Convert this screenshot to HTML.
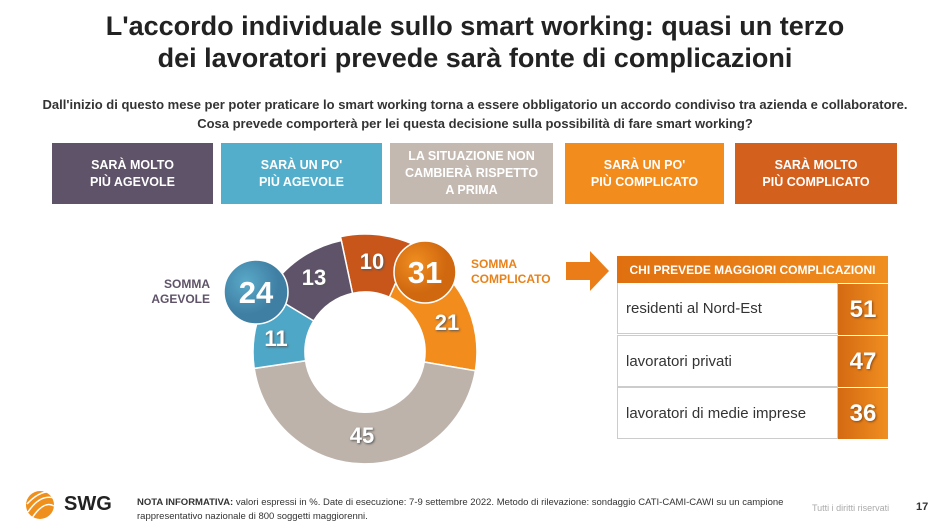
<!DOCTYPE html>
<html><head><meta charset="utf-8"><style>
body{margin:0;width:950px;height:530px;background:#fff;font-family:"Liberation Sans",sans-serif;position:relative;overflow:hidden}
.a{position:absolute}
.t{left:0;width:950px;text-align:center;font-weight:bold;font-size:27px;color:#222;line-height:32px;top:10px}
.q{left:0;width:950px;text-align:center;font-weight:bold;font-size:13px;color:#333;line-height:19px;top:95px}
.b{top:143px;height:61px;display:flex;align-items:center;justify-content:center;text-align:center;color:#fff;font-weight:bold;font-size:12.5px;line-height:17px}
.row{left:617px;width:221px;height:51px;border:1px solid #ccc;border-top:none;display:flex;align-items:center;padding-left:8px;box-sizing:border-box;font-size:15px;color:#333}
.num{left:838px;width:50px;height:51px;background:linear-gradient(90deg,#d46a12,#f08e20);color:#fff;font-weight:bold;font-size:24px;display:flex;align-items:center;justify-content:center;text-shadow:1px 1px 2px #8a4a10}
</style></head><body>
<div class="a t">L'accordo individuale sullo smart working: quasi un terzo<br>dei lavoratori prevede sarà fonte di complicazioni</div>
<div class="a q">Dall'inizio di questo mese per poter praticare lo smart working torna a essere obbligatorio un accordo condiviso tra azienda e collaboratore.<br>Cosa prevede comporterà per lei questa decisione sulla possibilità di fare smart working?</div>
<div class="a b" style="left:52px;width:161px;background:#5f5369">SARÀ MOLTO<br>PIÙ AGEVOLE</div>
<div class="a b" style="left:221px;width:161px;background:#52aecb">SARÀ UN PO'<br>PIÙ AGEVOLE</div>
<div class="a b" style="left:390px;width:163px;background:#c3b9b1">LA SITUAZIONE NON<br>CAMBIERÀ RISPETTO<br>A PRIMA</div>
<div class="a b" style="left:565px;width:159px;background:#f28c1c">SARÀ UN PO'<br>PIÙ COMPLICATO</div>
<div class="a b" style="left:735px;width:162px;background:#d4601e">SARÀ MOLTO<br>PIÙ COMPLICATO</div>

<svg class="a" style="left:0;top:0" width="950" height="530">
<defs>
<radialGradient id="g1" cx="35%" cy="35%"><stop offset="0" stop-color="#5aa9c9"/><stop offset="1" stop-color="#3f7fa3"/></radialGradient>
<radialGradient id="g2" cx="35%" cy="35%"><stop offset="0" stop-color="#f08e20"/><stop offset="1" stop-color="#d0680f"/></radialGradient>
</defs>
<g id="donut" stroke="#fff" stroke-width="1.5"></g>
<g font-weight="bold" fill="#fff" font-size="22" text-anchor="middle" font-family="Liberation Sans" style="text-shadow:1px 1px 2px #555">
<text x="372" y="269">10</text>
<text x="447" y="330">21</text>
<text x="362" y="443">45</text>
<text x="276" y="346">11</text>
<text x="314" y="285">13</text>
</g>
<circle cx="256" cy="292" r="32" fill="url(#g1)" stroke="#fff" stroke-width="1.5"/>
<circle cx="425" cy="272" r="31" fill="url(#g2)" stroke="#fff" stroke-width="1.5"/>
<g font-weight="bold" fill="#fff" font-size="31" text-anchor="middle" font-family="Liberation Sans">
<text x="256" y="303">24</text><text x="425" y="283">31</text></g>
<g font-weight="bold" font-size="12" font-family="Liberation Sans" text-anchor="end" fill="#5f5369">
<text x="210" y="288">SOMMA</text><text x="210" y="303">AGEVOLE</text></g>
<g font-weight="bold" font-size="12" font-family="Liberation Sans" fill="#e8821a">
<text x="471" y="268">SOMMA</text><text x="471" y="283">COMPLICATO</text></g>
<path d="M566 262 H590 V251 L609 271 L590 291 V280 H566 Z" fill="#eb7d18"/>
<circle cx="40" cy="505" r="14" fill="#f0901c"/>
<path d="M28 512 Q40 494 54 498 M27 504 Q40 490 52 492 M32 518 Q44 500 54 506" stroke="#fff" stroke-width="1.5" fill="none"/>
</svg>
<script>
var cx=365,cy=352,R=112,r=60,d=[[10,'#c8561a',118],[21,'#f28c1c',112],[45,'#bdb3ab',112],[11,'#4fa7c8',112],[13,'#5f5369',114]];
var a=-12,h='';function P(rr,deg){var t=(deg-90)*Math.PI/180;return (cx+rr*Math.cos(t)).toFixed(1)+' '+(cy+rr*Math.sin(t)).toFixed(1)}
d.forEach(function(s){var b=a+s[0]*3.6,l=s[0]>50?1:0,R=s[2];h+='<path fill="'+s[1]+'" d="M'+P(R,a)+' A'+R+' '+R+' 0 '+l+' 1 '+P(R,b)+' L'+P(r,b)+' A'+r+' '+r+' 0 '+l+' 0 '+P(r,a)+'Z"/>';a=b});
document.getElementById('donut').innerHTML=h;
</script>
<div class="a" style="left:617px;top:256px;width:271px;height:27px;background:linear-gradient(90deg,#e0700f,#f08e20);color:#fff;font-weight:bold;font-size:12px;display:flex;align-items:center;justify-content:center">CHI PREVEDE MAGGIORI COMPLICAZIONI</div>
<div class="a row" style="top:283px">residenti al Nord-Est</div><div class="a num" style="top:284px">51</div>
<div class="a row" style="top:335px;border-top:1px solid #ccc;height:52px">lavoratori privati</div><div class="a num" style="top:336px">47</div>
<div class="a row" style="top:387px;border-top:1px solid #ccc;height:52px">lavoratori di medie imprese</div><div class="a num" style="top:388px">36</div>
<div class="a" style="left:64px;top:493px;font-weight:bold;font-size:20px;color:#222">SWG</div>
<div class="a" style="left:137px;top:496px;font-size:9.5px;line-height:14px;color:#333"><b>NOTA INFORMATIVA:</b> valori espressi in %. Date di esecuzione: 7-9 settembre 2022. Metodo di rilevazione: sondaggio CATI-CAMI-CAWI su un campione<br>rappresentativo nazionale di 800 soggetti maggiorenni.</div>
<div class="a" style="left:812px;top:503px;font-size:9px;color:#aaa">Tutti i diritti riservati</div>
<div class="a" style="left:916px;top:501px;font-size:11px;font-weight:bold;color:#333">17</div>
</body></html>
